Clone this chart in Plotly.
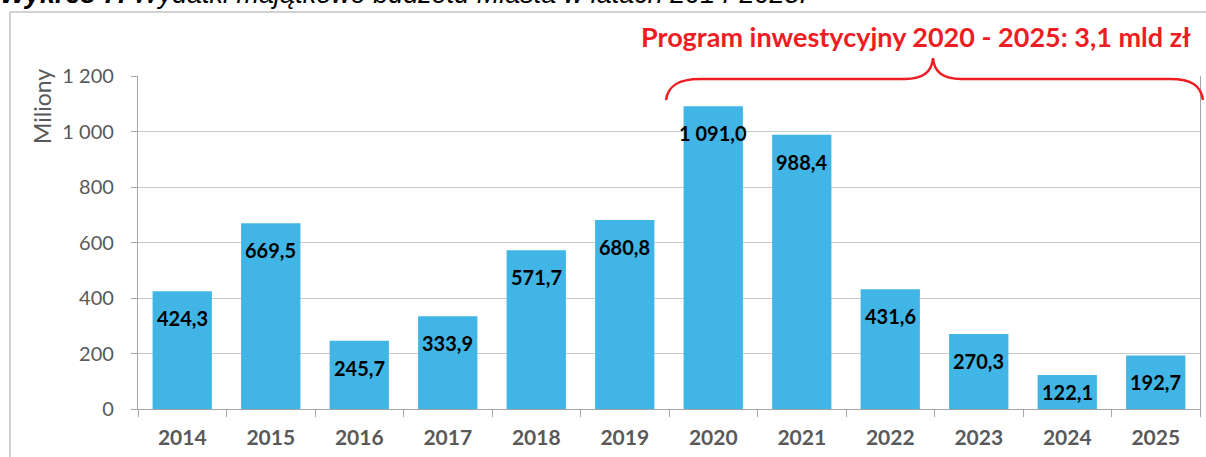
import plotly.graph_objects as go

years = ["2014", "2015", "2016", "2017", "2018", "2019", "2020", "2021", "2022", "2023", "2024", "2025"]
values = [424.3, 669.5, 245.7, 333.9, 571.7, 680.8, 1091.0, 988.4, 431.6, 270.3, 122.1, 192.7]
labels = ["424,3", "669,5", "245,7", "333,9", "571,7", "680,8", "1 091,0", "988,4", "431,6", "270,3", "122,1", "192,7"]
y_tickvals = [0, 200, 400, 600, 800, 1000, 1200]
y_ticktext = ["0", "200", "400", "600", "800", "1 000", "1 200"]

W, H = 1206, 457
ML, MR, MT, MB = 138, 6, 76, 48
PW, PH = W - ML - MR, H - MT - MB
YMAX = 1200

def px(x):
    return (x - ML) / PW

def py(y):
    return (H - MB - y) / PH

BAR = "#41B6E6"
GRID = "#C9C9C9"
AXIS = "#A6A6A6"
TXT = "#595959"
RED = "#EE1D23"
FONT = "Lato"

fig = go.Figure()
fig.add_trace(go.Bar(
    x=years, y=values, marker=dict(color=BAR, line=dict(width=0)),
    hoverinfo="x+y", showlegend=False,
))

# value labels inside the bar tops
scale = PH / YMAX
for i, (v, lab) in enumerate(zip(values, labels)):
    off = min(27, v * scale / 2)
    fig.add_annotation(x=i, y=v, xref="x", yref="y", text=lab, showarrow=False,
                       yanchor="middle", yshift=-off,
                       font=dict(family=FONT, size=20, color="black", weight="bold"))

# curly brace over 2020-2025
brace = (
    f"M {px(666)},{py(100)} "
    f"C {px(668)},{py(86)} {px(678)},{py(79)} {px(700)},{py(79)} "
    f"L {px(905)},{py(79)} "
    f"C {px(922)},{py(79)} {px(932)},{py(72)} {px(933)},{py(58)} "
    f"C {px(934)},{py(72)} {px(944)},{py(79)} {px(961)},{py(79)} "
    f"L {px(1170)},{py(79)} "
    f"C {px(1192)},{py(79)} {px(1201)},{py(86)} {px(1203)},{py(100)}"
)
fig.add_shape(type="path", path=brace, xref="paper", yref="paper",
              line=dict(color=RED, width=2.5), layer="above")

# outer frame (clipped at right and bottom)
fig.add_shape(type="rect", xref="paper", yref="paper",
              x0=px(10), y0=py(470), x1=px(1230), y1=py(12),
              line=dict(color="#C4C4C4", width=1.5), layer="below")

fig.add_annotation(xref="paper", yref="paper", x=px(1193), y=py(36),
                   xanchor="right", yanchor="middle", showarrow=False,
                   text="Program inwestycyjny 2020 - 2025: 3,1 mld zł",
                   font=dict(family=FONT, size=27, color=RED, weight="bold"))

fig.add_annotation(xref="paper", yref="paper", x=px(-2), y=py(11),
                   xanchor="left", yanchor="bottom", showarrow=False,
                   text="<b><i>Wykres 7.</i></b><i> Wydatki majątkowe budżetu Miasta w latach 2014-2025.</i>",
                   font=dict(family="Liberation Sans", size=27, color="black"))

fig.add_annotation(xref="paper", yref="paper", x=px(42), y=py(107),
                   xanchor="center", yanchor="middle", showarrow=False,
                   textangle=-90, text="Miliony",
                   font=dict(family=FONT, size=23, color=TXT))

fig.update_layout(
    width=W, height=H,
    margin=dict(l=ML, r=MR, t=MT, b=MB),
    paper_bgcolor="white", plot_bgcolor="white",
    bargap=0.33,
    font=dict(family=FONT, color=TXT),
)
fig.update_xaxes(
    type="category", range=[-0.5, len(years) - 0.5], automargin=False,
    showline=True, linecolor=AXIS, linewidth=1.2,
    ticks="outside", tickson="boundaries", ticklen=7, tickcolor=AXIS,
    tickfont=dict(family=FONT, size=21, color=TXT, weight="bold"),
    tickangle=0, ticklabelstandoff=10, showgrid=False, mirror=False,
)
fig.update_yaxes(
    range=[0, YMAX], tickvals=y_tickvals, ticktext=y_ticktext, automargin=False,
    showline=True, linecolor=AXIS, linewidth=1.2, mirror=True,
    ticks="outside", ticklen=6, tickcolor=AXIS,
    showgrid=True, gridcolor=GRID, gridwidth=1.2, zeroline=False,
    tickfont=dict(family=FONT, size=20, color=TXT), ticklabelstandoff=13,
)

fig.write_html("out.html", config={"displayModeBar": False},
               post_script="document.body.style.margin='0px';")
